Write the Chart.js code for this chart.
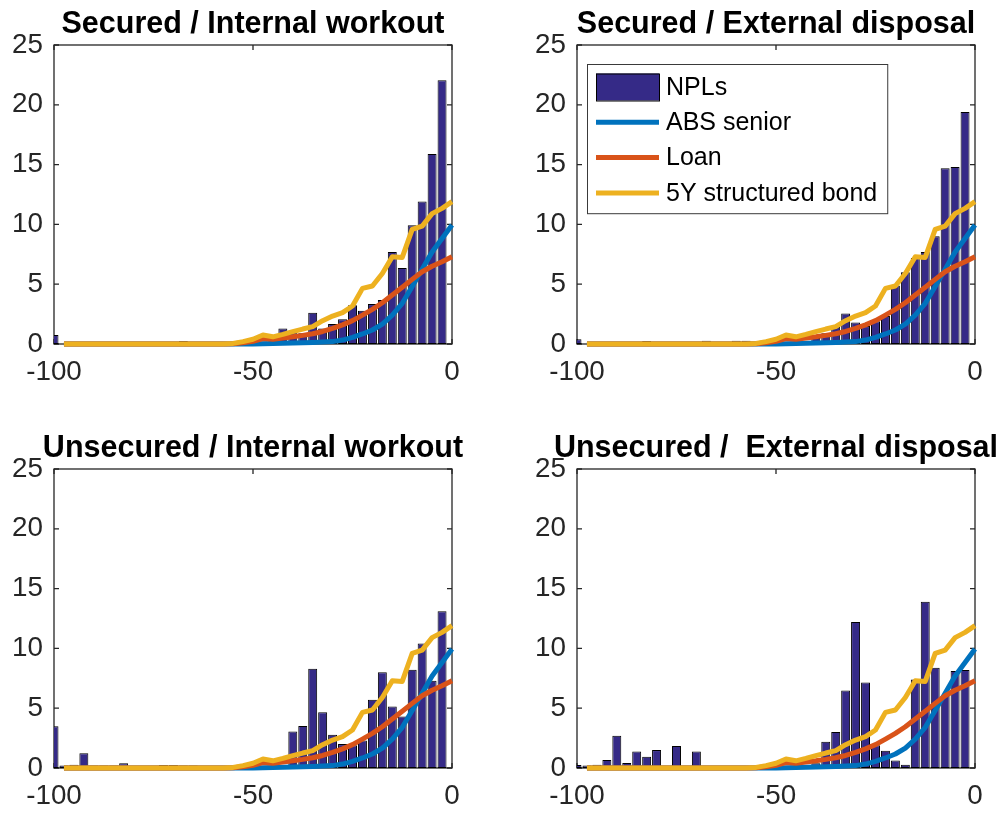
<!DOCTYPE html>
<html>
<head>
<meta charset="utf-8">
<script src="https://cdn.jsdelivr.net/npm/chart.js@4.4.1/dist/chart.umd.min.js"></script>
<style>
  html, body { margin:0; padding:0; background:#fff; overflow:hidden; }
  #wrap { position:relative; width:1006px; height:816px; overflow:hidden; }
  canvas { position:absolute; }
</style>
</head>
<body>
<div id="wrap">
  <canvas id="c1" width="506" height="392" style="left:0px;top:0px"></canvas>
  <canvas id="c2" width="506" height="392" style="left:523px;top:0px"></canvas>
  <canvas id="c3" width="506" height="392" style="left:0px;top:424px"></canvas>
  <canvas id="c4" width="506" height="392" style="left:523px;top:424px"></canvas>
</div>
<script>
// ---------------- DATA ----------------
const titles = [
  "Secured / Internal workout",
  "Secured / External disposal",
  "Unsecured / Internal workout",
  "Unsecured /  External disposal"
];
const seriesLabels = ["NPLs", "ABS senior", "Loan", "5Y structured bond"];

// histogram bin centres (x)
const binCenters = [-100,-97.5,-95,-92.5,-90,-87.5,-85,-82.5,-80,-77.5,-75,-72.5,-70,-67.5,-65,-62.5,-60,-57.5,-55,-52.5,
                    -50,-47.5,-45,-42.5,-40,-37.5,-35,-32.5,-30,-27.5,-25,-22.5,-20,-17.5,-15,-12.5,-10,-7.5,-5,-2.5];
// model curve x positions
const curveX = [-97.5,-95,-92.5,-90,-87.5,-85,-82.5,-80,-77.5,-75,-72.5,-70,-67.5,-65,-62.5,-60,-57.5,-55,-52.5,-50,
                -47.5,-45,-42.5,-40,-37.5,-35,-32.5,-30,-27.5,-25,-22.5,-20,-17.5,-15,-12.5,-10,-7.5,-5,-2.5,0];

// NPL histograms
const nplSecInt = [0.75,0,0,0,0,0,0,0,0,0,0,0,0,0.25,0,0,0,0,0,0,
                   0,0.2,0.3,1.3,1.1,0.9,2.62,1.3,1.67,2.06,3.23,2.79,3.34,3.68,7.69,6.35,9.92,11.92,15.88,22.06];
const nplSecExt = [0.4,0,0,0,0,0,0,0.25,0,0,0,0,0,0.28,0,0,0.28,0.28,0,0,
                   0.4,0,0,0,0.5,0.9,1.45,2.55,1.8,1.5,1.9,2.35,4.9,6.0,7.2,7.7,9.0,14.7,14.8,19.4];
const nplUnsInt = [3.5,0.2,0.28,1.23,0.2,0.2,0.2,0.4,0,0,0,0.25,0.25,0.2,0.2,0,0,0.15,0.1,0,
                   0,0,0,0,3.05,3.52,8.3,4.66,2.77,2.0,1.9,2.3,5.7,8.0,5.15,4.3,8.22,10.4,7.3,13.1];
const nplUnsExt = [0.25,0.2,0.28,0.67,2.7,0.42,1.37,0.95,1.5,0,1.84,0,1.37,0,0,0,0,0,0,0,
                   0,0,0,0,0.4,2.2,3.0,6.48,12.2,7.15,1.9,1.45,0.62,0.28,7.4,13.9,8.38,6.05,8.12,8.2];

// model curves (same in every panel)
const absSenior = [0,0,0,0,0,0,0,0,0,0,0,0,0,0,0,0,0,0,0,0.01,
                   0.02,0.04,0.06,0.08,0.1,0.13,0.16,0.2,0.33,0.56,0.84,1.17,1.67,2.42,3.4,4.8,6.24,7.7,8.83,9.94];
const loan      = [0,0,0,0,0,0,0,0,0,0,0,0,0,0,0,0,0,0.03,0.1,0.22,
                   0.45,0.4,0.5,0.6,0.72,0.86,1.05,1.3,1.6,1.95,2.42,2.9,3.45,4.1,4.74,5.4,6.04,6.5,6.88,7.3];
const bond5Y    = [0,0,0,0,0,0,0,0,0,0,0,0,0,0,0,0,0,0.05,0.2,0.4,
                   0.75,0.6,0.8,1.03,1.25,1.45,1.95,2.34,2.62,3.18,4.65,4.85,5.9,7.3,7.24,9.58,9.86,10.9,11.34,11.9];

const xTicks = [-100, -50, 0];
const yTicks = [0, 5, 10, 15, 20, 25];

// ---------------- STYLE / RENDER ----------------
const FONT = "'Liberation Sans', Arial, Helvetica, sans-serif";
const AXC = '#262626';
Chart.defaults.font.family = FONT;

const matlabAxes = {
  id: 'matlabAxes',
  beforeDatasetsDraw(chart) {
    const {ctx, chartArea: a, scales: {x, y}} = chart;
    ctx.save();
    ctx.strokeStyle = AXC;
    ctx.lineWidth = 1.3;
    ctx.strokeRect(a.left, a.top, a.right - a.left, a.bottom - a.top);
    const L = 5;
    ctx.beginPath();
    y.ticks.forEach(t => {
      const py = y.getPixelForValue(t.value);
      ctx.moveTo(a.left, py); ctx.lineTo(a.left + L, py);
      ctx.moveTo(a.right, py); ctx.lineTo(a.right - L, py);
    });
    x.ticks.forEach(t => {
      const px = x.getPixelForValue(t.value);
      ctx.moveTo(px, a.bottom); ctx.lineTo(px, a.bottom - L);
      ctx.moveTo(px, a.top); ctx.lineTo(px, a.top + L);
    });
    ctx.stroke();
    ctx.restore();
  }
};

const innerLegend = {
  id: 'innerLegend',
  afterDraw(chart, args, opts) {
    if (!opts || !opts.display) return;
    const {ctx, chartArea: a} = chart;
    const ds = chart.data.datasets;
    const fs = 25, rowH = 35.3, sampleW = 63, padL = 9, gap = 7, padR = 10;
    ctx.save();
    ctx.font = fs + 'px ' + FONT;
    let maxW = 0;
    ds.forEach(d => { maxW = Math.max(maxW, ctx.measureText(d.label).width); });
    const bx = a.left + 10, by = a.top + 19;
    const bw = padL + sampleW + gap + maxW + padR;
    const bh = rowH * ds.length + 8;
    ctx.fillStyle = '#fff';
    ctx.fillRect(bx, by, bw, bh);
    ctx.strokeStyle = '#3a3a3a';
    ctx.lineWidth = 1;
    ctx.strokeRect(bx + 0.5, by + 0.5, bw, bh);
    ds.forEach((d, i) => {
      const cy = by + 23 + i * rowH;
      const sx = bx + padL;
      if (d.type === 'bar') {
        ctx.fillStyle = d.backgroundColor;
        ctx.fillRect(sx, cy - 13.5, sampleW, 27);
        ctx.strokeStyle = '#000';
        ctx.lineWidth = 1;
        ctx.strokeRect(sx + 0.5, cy - 13.5 + 0.5, sampleW, 27);
      } else {
        ctx.strokeStyle = d.borderColor;
        ctx.lineWidth = d.borderWidth;
        ctx.beginPath();
        ctx.moveTo(sx, cy); ctx.lineTo(sx + sampleW, cy);
        ctx.stroke();
      }
      ctx.fillStyle = '#000';
      ctx.textBaseline = 'middle';
      ctx.textAlign = 'left';
      ctx.fillText(d.label, sx + sampleW + gap, cy + 1);
    });
    ctx.restore();
  }
};

function pts(xs, ys) { return xs.map((x, i) => ({x: x, y: ys[i]})); }

function makeChart(id, title, npl, showLegend) {
  const lineCommon = {type: 'line', pointRadius: 0, borderWidth: 5, tension: 0, fill: false,
                      clip: false, borderCapStyle: 'butt', borderJoinStyle: 'round'};
  return new Chart(document.getElementById(id), {
    type: 'bar',
    data: {
      datasets: [
        {type: 'bar', label: seriesLabels[0], data: pts(binCenters, npl),
         backgroundColor: 'rgb(53,42,135)', borderColor: '#000', borderWidth: 1,
         barPercentage: 0.9, categoryPercentage: 1, grouped: false, borderSkipped: false, order: 4},
        Object.assign({label: seriesLabels[1], data: pts(curveX, absSenior), borderColor: '#0072BD', order: 3}, lineCommon),
        Object.assign({label: seriesLabels[2], data: pts(curveX, loan), borderColor: '#D95319', order: 2}, lineCommon),
        Object.assign({label: seriesLabels[3], data: pts(curveX, bond5Y), borderColor: '#EDB120', order: 1}, lineCommon)
      ]
    },
    options: {
      responsive: false,
      animation: false,
      devicePixelRatio: 1,
      events: [],
      layout: {padding: {left: 0, right: 0, top: 0, bottom: 0}},
      plugins: {
        legend: {display: false},
        tooltip: {enabled: false},
        title: {display: true, text: title, color: '#000',
                font: {family: FONT, size: 30.5, weight: 'bold'},
                padding: {top: 6.7, bottom: 1.7}},
        innerLegend: {display: showLegend}
      },
      scales: {
        x: {type: 'linear', min: -100, max: 0, offset: false,
            grid: {display: false, drawTicks: false}, border: {display: false},
            afterBuildTicks(s) { s.ticks = xTicks.map(v => ({value: v})); },
            ticks: {color: AXC, font: {size: 27.8}, padding: 12, maxRotation: 0, autoSkip: false},
            afterFit(s) { s.height = 48; }},
        y: {type: 'linear', min: 0, max: 25,
            grid: {display: false, drawTicks: false}, border: {display: false},
            afterBuildTicks(s) { s.ticks = yTicks.map(v => ({value: v})); },
            ticks: {color: AXC, font: {size: 27.8}, padding: 11, autoSkip: false},
            afterFit(s) { s.width = 54; }},
        yPad: {type: 'linear', position: 'right', min: 0, max: 25,
            grid: {display: false, drawTicks: false}, border: {display: false},
            ticks: {display: false},
            afterFit(s) { s.width = 54; }}
      }
    },
    plugins: [matlabAxes, innerLegend]
  });
}

makeChart('c1', titles[0], nplSecInt, false);
makeChart('c2', titles[1], nplSecExt, true);
makeChart('c3', titles[2], nplUnsInt, false);
makeChart('c4', titles[3], nplUnsExt, false);
</script>
</body>
</html>
